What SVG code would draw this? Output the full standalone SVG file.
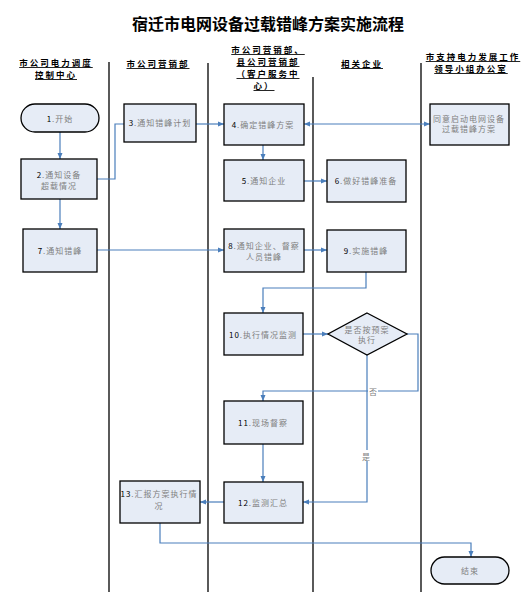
<svg xmlns="http://www.w3.org/2000/svg" width="524" height="594" viewBox="0 0 524 594">
<defs>
<style>
.lane{stroke:#000;stroke-width:1.3;fill:none}
.box{fill:#E6ECF6;stroke:#000;stroke-width:1.3}
.con{fill:none;stroke:#4A7EBB;stroke-width:1.2}
.t{font-family:"Noto Sans CJK SC","Noto Sans",sans-serif;font-size:8px;fill:#808080;text-anchor:middle;dominant-baseline:central;letter-spacing:1px}
.n{fill:#000}
.h{font-family:"Noto Sans CJK SC","Noto Sans",sans-serif;font-size:8.5px;font-weight:bold;fill:#000;text-anchor:middle;dominant-baseline:central;text-decoration:underline;letter-spacing:2px}
.title{font-family:"Noto Sans CJK SC","Noto Sans",sans-serif;font-size:16px;font-weight:bold;fill:#000;text-anchor:middle;dominant-baseline:central}
.lbl{font-family:"Noto Sans CJK SC","Noto Sans",sans-serif;font-size:8px;fill:#808080;text-anchor:middle;dominant-baseline:central}
</style>
<marker id="ar" markerWidth="6" markerHeight="6" refX="6" refY="3" orient="auto" markerUnits="userSpaceOnUse">
<path d="M0,0.5 L6,3 L0,5.5 Z" fill="#4A7EBB"/>
</marker>
<marker id="as" markerWidth="6" markerHeight="6" refX="0" refY="3" orient="auto" markerUnits="userSpaceOnUse">
<path d="M6,0.5 L0,3 L6,5.5 Z" fill="#4A7EBB"/>
</marker>
</defs>
<rect width="524" height="594" fill="#fff"/>
<text class="title" x="268" y="23">宿迁市电网设备过载错峰方案实施流程</text>
<g id="headers">
<text class="h" x="56" y="62">市公司电力调度</text>
<text class="h" x="56" y="74">控制中心</text>
<text class="h" x="158" y="63">市公司营销部</text>
<text class="h" x="268" y="49">市公司营销部、</text>
<text class="h" x="268" y="61">县公司营销部</text>
<text class="h" x="268" y="73">（客户服务中</text>
<text class="h" x="264" y="85">心）</text>
<text class="h" x="362" y="63">相关企业</text>
<text class="h" x="473" y="56">市支持电力发展工作</text>
<text class="h" x="471" y="68">领导小组办公室</text>
</g>
<g id="lanes">
<line class="lane" x1="109" y1="62" x2="109" y2="592"/>
<line class="lane" x1="208" y1="63" x2="208" y2="592"/>
<line class="lane" x1="313" y1="77" x2="313" y2="592"/>
<line class="lane" x1="421" y1="63" x2="421" y2="592"/>
</g>
<g id="connectors">
<path class="con" d="M60,132 V159" marker-end="url(#ar)"/>
<path class="con" d="M60,199 V229" marker-end="url(#ar)"/>
<path class="con" d="M97,179 H115 V124 H124"/>
<path class="con" d="M196,124 H224" marker-end="url(#ar)"/>
<path class="con" d="M304,124 H430" marker-start="url(#as)" marker-end="url(#ar)"/>
<path class="con" d="M263,145 V160" marker-end="url(#ar)"/>
<path class="con" d="M304,181 H327" marker-end="url(#ar)"/>
<path class="con" d="M97,250 H224" marker-end="url(#ar)"/>
<path class="con" d="M304,250 H327" marker-end="url(#ar)"/>
<path class="con" d="M366,272 V288 H263 V313" marker-end="url(#ar)"/>
<path class="con" d="M303,334 H328" marker-end="url(#ar)"/>
<path class="con" d="M407,334 H418 V391 H263 V401" marker-end="url(#ar)"/>
<path class="con" d="M367,355 V502 H303" marker-end="url(#ar)"/>
<path class="con" d="M263,444 V482" marker-end="url(#ar)"/>
<path class="con" d="M224,502 H200" marker-end="url(#ar)"/>
<path class="con" d="M160,523 V543 H471 V557" marker-end="url(#ar)"/>
<rect x="368" y="385" width="10" height="11" fill="#fff"/>
<text class="lbl" x="373" y="391">否</text>
<rect x="361" y="450" width="10" height="11" fill="#fff"/>
<text class="lbl" x="366" y="456">是</text>
</g>
<g id="n1">
<rect class="box" x="21" y="104" width="78" height="28" rx="14"/>
<text class="t" x="60" y="118"><tspan class="n">1</tspan>.开始</text>
</g>
<g id="n2">
<rect class="box" x="21" y="159" width="76" height="40"/>
<text class="t" x="59" y="174"><tspan class="n">2</tspan>.通知设备</text>
<text class="t" x="59" y="185">超载情况</text>
</g>
<g id="n3">
<rect class="box" x="124" y="104" width="72" height="38"/>
<text class="t" x="160" y="122"><tspan class="n">3</tspan>.通知错峰计划</text>
</g>
<g id="n4">
<rect class="box" x="224" y="104" width="80" height="41"/>
<text class="t" x="263" y="124"><tspan class="n">4</tspan>.确定错峰方案</text>
</g>
<g id="n5">
<rect class="box" x="224" y="160" width="80" height="41"/>
<text class="t" x="264" y="180"><tspan class="n">5</tspan>.通知企业</text>
</g>
<g id="n6">
<rect class="box" x="327" y="160" width="79" height="42"/>
<text class="t" x="366" y="180"><tspan class="n">6</tspan>.做好错峰准备</text>
</g>
<g id="n7">
<rect class="box" x="23" y="229" width="74" height="43"/>
<text class="t" x="60" y="250"><tspan class="n">7</tspan>.通知错峰</text>
</g>
<g id="n8">
<rect class="box" x="224" y="229" width="80" height="43"/>
<text class="t" x="264" y="245"><tspan class="n">8</tspan>.通知企业、督察</text>
<text class="t" x="264" y="256">人员错峰</text>
</g>
<g id="n9">
<rect class="box" x="327" y="230" width="79" height="42"/>
<text class="t" x="366" y="250"><tspan class="n">9</tspan>.实施错峰</text>
</g>
<g id="nA">
<rect class="box" x="430" y="104" width="79" height="41"/>
<text class="t" x="469" y="118">同意启动电网设备</text>
<text class="t" x="469" y="128">过载错峰方案</text>
</g>
<g id="n10">
<rect class="box" x="224" y="313" width="79" height="42"/>
<text class="t" x="263" y="334"><tspan class="n">10</tspan>.执行情况监测</text>
</g>
<g id="nD">
<polygon class="box" points="367,313 407,334 367,355 328,334"/>
<text class="t" x="367" y="329">是否按预案</text>
<text class="t" x="367" y="339">执行</text>
</g>
<g id="n11">
<rect class="box" x="224" y="401" width="79" height="43"/>
<text class="t" x="263" y="422"><tspan class="n">11</tspan>.现场督察</text>
</g>
<g id="n12">
<rect class="box" x="224" y="482" width="79" height="41"/>
<text class="t" x="263" y="502"><tspan class="n">12</tspan>.监测汇总</text>
</g>
<g id="n13">
<rect class="box" x="120" y="481" width="80" height="42"/>
<text class="t" x="159" y="493"><tspan class="n">13</tspan>.汇报方案执行情</text>
<text class="t" x="159" y="505">况</text>
</g>
<g id="nEnd">
<rect class="box" x="431" y="557" width="78" height="27" rx="13.5"/>
<text class="t" x="470" y="570">结束</text>
</g>
</svg>
